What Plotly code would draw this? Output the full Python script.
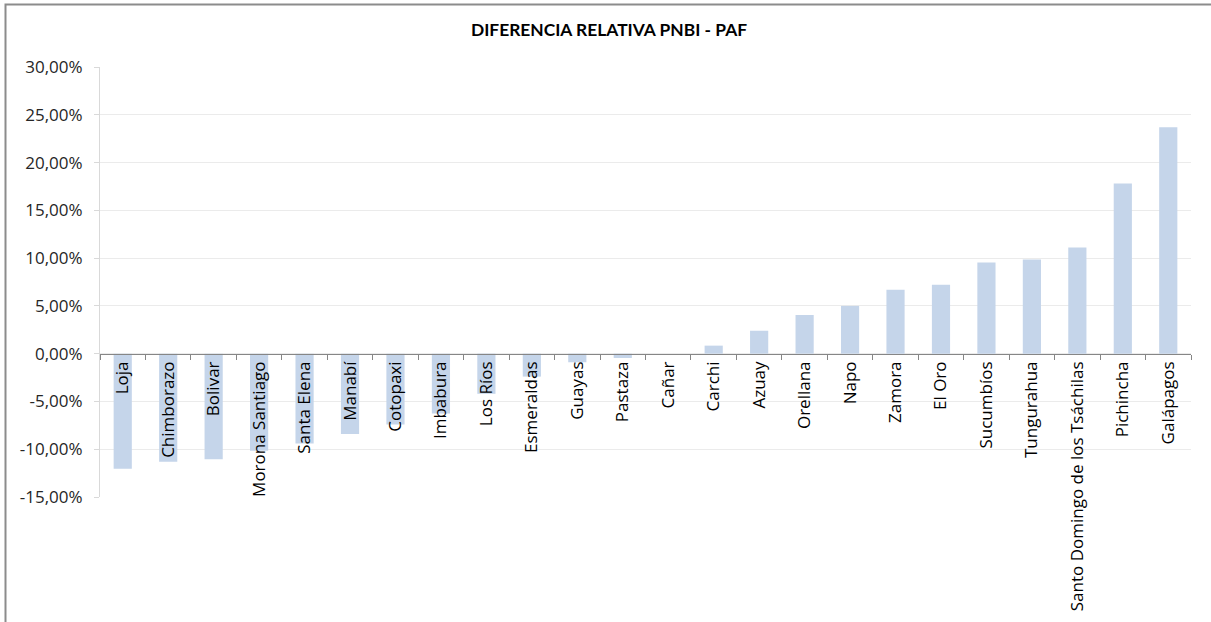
import plotly.graph_objects as go

# Relative difference PNBI - PAF by province (percent)
provincias = [
    "Loja", "Chimborazo", "Bolivar", "Morona Santiago", "Santa Elena", "Manabí",
    "Cotopaxi", "Imbabura", "Los Ríos", "Esmeraldas", "Guayas", "Pastaza",
    "Cañar", "Carchi", "Azuay", "Orellana", "Napo", "Zamora", "El Oro",
    "Sucumbíos", "Tungurahua", "Santo Domingo de los Tsáchilas", "Pichincha",
    "Galápagos",
]
diferencia = [
    -12.05, -11.3, -11.05, -10.15, -9.4, -8.4,
    -7.4, -6.25, -4.2, -2.4, -0.9, -0.45,
    0.0, 0.84, 2.4, 4.05, 5.0, 6.7, 7.2,
    9.55, 9.85, 11.1, 17.8, 23.7,
]

y_min, y_max = -15, 30
y_ticks = [-15, -10, -5, 0, 5, 10, 15, 20, 25, 30]
y_ticklabels = [f"{v:.2f}".replace(".", ",") + "%" for v in y_ticks]

W, H = 1211, 622
M_L, M_R, M_T, M_B = 100, 20, 67, 125
plot_w = W - M_L - M_R
plot_h = H - M_T - M_B

def px_x(p):
    return (p - M_L) / plot_w

def px_y(p):
    return (H - M_B - p) / plot_h

fig = go.Figure(
    go.Bar(
        x=provincias,
        y=diferencia,
        marker=dict(color="#c5d5ea", line=dict(width=0)),
        hovertemplate="%{x}: %{y:.2f}%<extra></extra>",
    )
)

label_font = "'Open Sans', 'Noto Sans', sans-serif"
title_font = "Lato, 'Open Sans', sans-serif"

fig.update_layout(
    width=W,
    height=H,
    margin=dict(l=M_L, r=M_R, t=M_T, b=M_B),
    paper_bgcolor="white",
    plot_bgcolor="white",
    bargap=0.6,
    showlegend=False,
    font=dict(family=label_font, size=16, color="#262626"),
    title=dict(
        text="<b>DIFERENCIA RELATIVA PNBI - PAF</b>",
        x=609 / W,
        xanchor="center",
        y=1 - 30 / H,
        yanchor="middle",
        font=dict(family=title_font, size=17.4, color="#000000"),
    ),
    xaxis=dict(
        anchor="free",
        position=(0 - y_min) / (y_max - y_min),
        showline=True,
        linecolor="#868686",
        linewidth=1,
        ticks="outside",
        tickson="boundaries",
        ticklen=5,
        tickcolor="#868686",
        tickangle=-90,
        showgrid=False,
        tickfont=dict(family=label_font, size=17, color="#000000"),
        automargin=False,
    ),
    yaxis=dict(
        range=[y_min, y_max],
        tickvals=y_ticks,
        ticktext=y_ticklabels,
        showgrid=True,
        gridcolor="#ebebeb",
        gridwidth=1,
        zeroline=False,
        showline=True,
        linecolor="#d9d9d9",
        ticks="outside",
        ticklen=5,
        tickcolor="#d9d9d9",
        ticklabelstandoff=8,
        tickfont=dict(family=label_font, size=17, color="#262626"),
        automargin=False,
    ),
    shapes=[
        dict(
            type="rect",
            xref="paper",
            yref="paper",
            x0=px_x(5.5),
            x1=px_x(W + 20),
            y0=px_y(H + 20),
            y1=px_y(4.5),
            line=dict(color="#8c8c8c", width=2),
            fillcolor="rgba(0,0,0,0)",
            layer="below",
        )
    ],
)

fig.write_html("out.html")
